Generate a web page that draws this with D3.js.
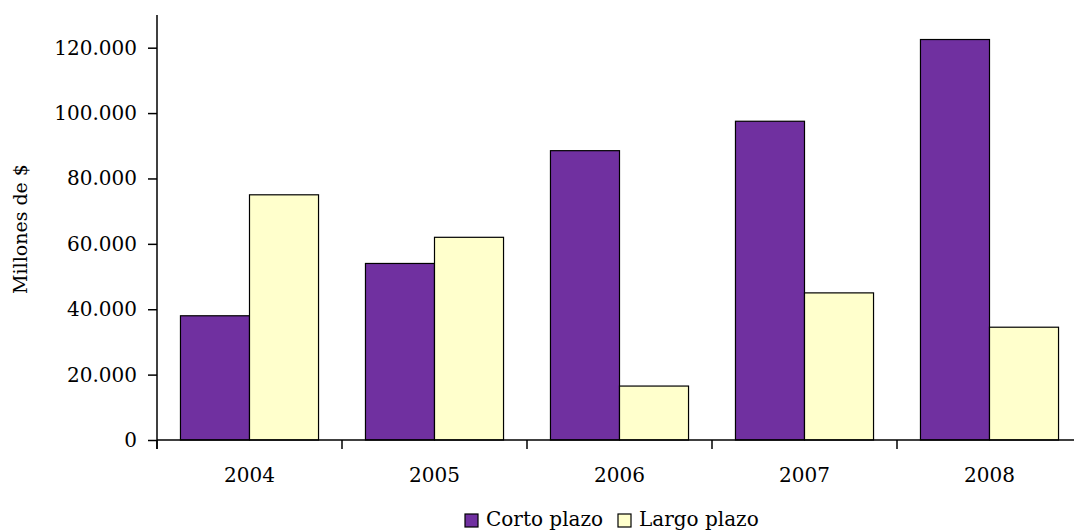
<!DOCTYPE html>
<html>
<head>
<meta charset="utf-8">
<script src="https://cdn.jsdelivr.net/npm/d3@7/dist/d3.min.js"></script>
<style>
  html, body { margin: 0; padding: 0; background: #fff; }
  svg { display: block; }
  text { font-family: "DejaVu Serif", serif; fill: #000; }
</style>
</head>
<body>
<svg id="chart" width="1074" height="531"></svg>
<script>
const years = ["2004", "2005", "2006", "2007", "2008"];
const seriesNames = ["Corto plazo", "Largo plazo"];
const cortoPlazo = [38000, 54000, 88500, 97500, 122500];
const largoPlazo = [75000, 62000, 16500, 45000, 34500];
const yTicks = [0, 20000, 40000, 60000, 80000, 100000, 120000];
const colors = ["#7030A0", "#FFFFCC"];
const yTitle = "Millones de $";

const svg = d3.select("#chart");
const fontSize = 20;

const x0 = d3.scaleBand().domain(years).range([157, 1082]).padding(0);
const x1 = d3.scaleBand().domain(seriesNames).range([0, x0.bandwidth()])
  .paddingInner(0).paddingOuter(0.34);
const y = d3.scaleLinear().domain([0, 130000]).range([440, 15]);

const loc = d3.formatLocale({decimal: ",", thousands: ".", grouping: [3], currency: ["$", ""]});
const fmt = loc.format(",d");

const data = years.map((yr, i) => ({year: yr, values: [cortoPlazo[i], largoPlazo[i]]}));

// bars
const groups = svg.append("g").selectAll("g").data(data).join("g")
  .attr("transform", d => `translate(${x0(d.year)},0)`);
groups.selectAll("rect").data(d => d.values.map((v, j) => ({name: seriesNames[j], v, j})))
  .join("rect")
  .attr("x", d => x1(d.name))
  .attr("y", d => y(d.v))
  .attr("width", x1.bandwidth())
  .attr("height", d => y(0) - y(d.v))
  .attr("fill", d => colors[d.j])
  .attr("stroke", "#000")
  .attr("stroke-width", 1.2);

// y axis
const yAxis = svg.append("g").attr("transform", "translate(157,0)")
  .call(d3.axisLeft(y).tickValues(yTicks).tickFormat(fmt).tickSize(9).tickPadding(11));
yAxis.select(".domain").attr("d", `M0,${y(130000)}V${y(0) + 9}`).attr("stroke-width", 1.5);
yAxis.selectAll(".tick line").attr("stroke-width", 1.5);
yAxis.selectAll("text").style("font-size", fontSize + "px").style("font-family", "DejaVu Serif");

// x axis
const boundaries = years.map(yv => x0(yv)).concat([x0.range()[1]]);
const xAxisG = svg.append("g");
xAxisG.append("line").attr("x1", 157).attr("x2", 1082).attr("y1", y(0)).attr("y2", y(0))
  .attr("stroke", "#000").attr("stroke-width", 1.5);
xAxisG.selectAll("line.tk").data(boundaries).join("line").attr("class", "tk")
  .attr("x1", d => d).attr("x2", d => d).attr("y1", y(0)).attr("y2", y(0) + 9)
  .attr("stroke", "#000").attr("stroke-width", 1.5);
xAxisG.selectAll("text").data(years).join("text")
  .attr("x", d => x0(d) + x0.bandwidth() / 2)
  .attr("y", 482)
  .attr("text-anchor", "middle")
  .style("font-size", fontSize + "px")
  .text(d => d);

// y title
svg.append("text")
  .attr("transform", "translate(27,229) rotate(-90)")
  .attr("text-anchor", "middle")
  .style("font-size", "19px")
  .text(yTitle);

// legend
const legend = svg.append("g");
const legX = [465, 618];
seriesNames.forEach((name, i) => {
  legend.append("rect").attr("x", legX[i]).attr("y", 514).attr("width", 13).attr("height", 13)
    .attr("fill", colors[i]).attr("stroke", "#000").attr("stroke-width", 1.2);
  legend.append("text").attr("x", legX[i] + 21).attr("y", 526)
    .style("font-size", fontSize + "px").text(name);
});
</script>
</body>
</html>
